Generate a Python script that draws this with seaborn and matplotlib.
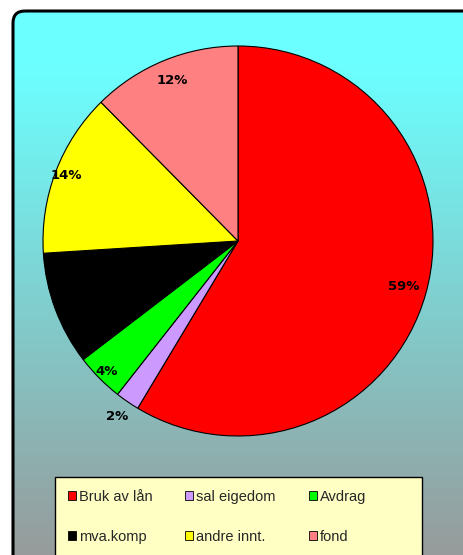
import numpy as np
import seaborn as sns
import matplotlib.pyplot as plt
from matplotlib.patches import FancyBboxPatch, Rectangle, Patch
from matplotlib.colors import LinearSegmentedColormap

# data
kategoriar = ["Bruk av lån", "sal eigedom", "Avdrag", "mva.komp", "andre innt.", "fond"]
verdiar = [58.6, 2.0, 4.0, 9.4, 13.6, 12.4]
fargar = ["#FF0000", "#CC99FF", "#00FF00", "#000000", "#FFFF00", "#FF8080"]
# avstand for prosent-etikettar (i radius-einingar)
etikett_r = [0.88, 1.09, 0.95, 0.9, 0.94, 0.89]

sns.set_style("white")
plt.rcParams['font.family'] = ['Liberation Sans', 'DejaVu Sans']

W, H = 464, 555
fig = plt.figure(figsize=(W / 100, H / 100), dpi=100)
fig.patch.set_facecolor("white")

# bakgrunn med gradient
bg = fig.add_axes([0, 0, 1, 1])
bg.set_xlim(0, W)
bg.set_ylim(H, 0)
bg.axis("off")
cmap = LinearSegmentedColormap.from_list(
    "bg", [(0.0, "#6CFFFF"), (0.12, "#6CFFFF"), (1.0, "#979B9B")])
grad = np.linspace(0, 1, 256).reshape(-1, 1)
img = bg.imshow(grad, cmap=cmap, extent=[0, W, H, 0], aspect="auto")
ramme = FancyBboxPatch((13, 11), 480, 580, boxstyle="round,pad=0,rounding_size=12",
                       facecolor="none", edgecolor="black", linewidth=2.2)
bg.add_patch(ramme)
img.set_clip_path(ramme)

# kake
ax = fig.add_axes([43 / W, (H - 436) / H, 390 / W, 390 / H])
wedges, _ = ax.pie(verdiar, colors=fargar, startangle=90, counterclock=False,
                   wedgeprops=dict(edgecolor="black", linewidth=0.8))
tot = sum(verdiar)
vinkel = 90.0
for w, v, r in zip(wedges, verdiar, etikett_r):
    mid = np.deg2rad(vinkel - v / tot * 360 / 2)
    vinkel -= v / tot * 360
    ax.text(r * np.cos(mid), r * np.sin(mid), f"{v / tot * 100:.0f}%",
            ha="center", va="center", fontsize=9.5, fontweight="bold",
            color="black", family="DejaVu Sans")
ax.set_xlim(-1, 1)
ax.set_ylim(-1, 1)
ax.set_aspect("equal")
for w in wedges:
    w.set_clip_on(False)

# forklaring (radvis: matplotlib fyller kolonnevis, så stokk om)
bg.add_patch(Rectangle((55, 477), 367, 100, facecolor="#FFFFC4",
                       edgecolor="black", linewidth=1.0))
handles = [Patch(facecolor=c, edgecolor="black", linewidth=0.6) for c in fargar]
rekkjefylgje = [0, 3, 1, 4, 2, 5]
leg = fig.legend([handles[i] for i in rekkjefylgje],
                 [kategoriar[i] for i in rekkjefylgje],
                 ncol=3, loc="upper left",
                 bbox_to_anchor=(68 / W, 1 - 490 / H), frameon=False,
                 fontsize=10.5, handlelength=0.55, handleheight=0.55,
                 handletextpad=0.2, columnspacing=2.25, labelspacing=1.75,
                 borderaxespad=0, borderpad=0)

fig.savefig("out.png", dpi=100)
